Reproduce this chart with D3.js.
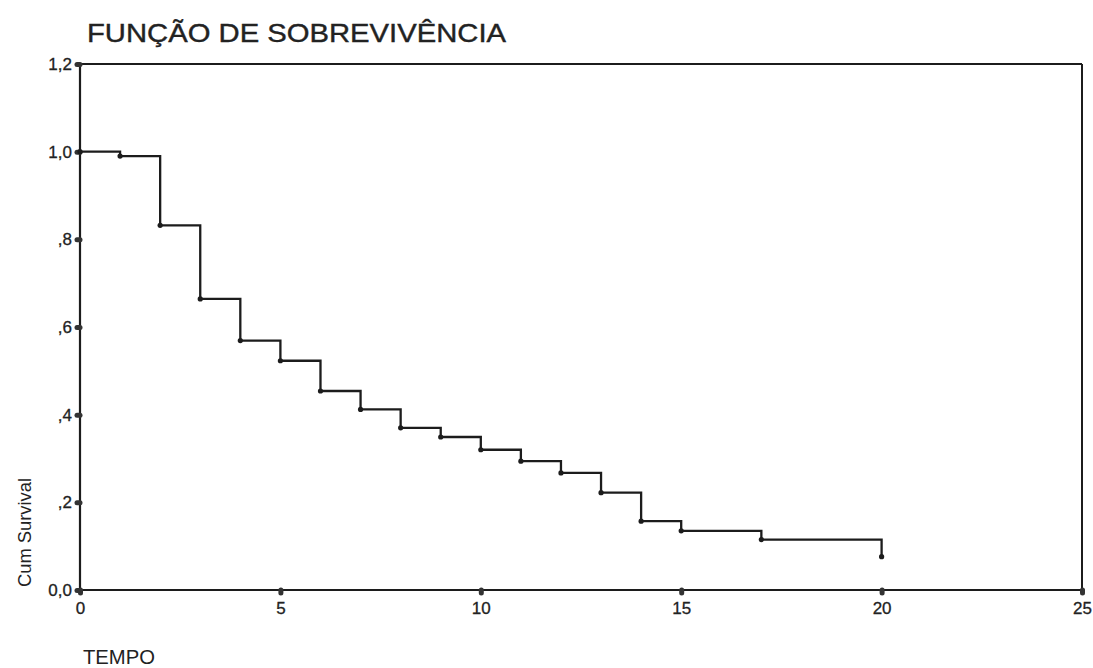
<!DOCTYPE html>
<html>
<head>
<meta charset="utf-8">
<script src="https://cdn.jsdelivr.net/npm/d3@7"></script>
<style>
  html, body { margin: 0; padding: 0; background: #fff; }
  svg { display: block; }
  text { font-family: "Liberation Sans", Arial, Helvetica, sans-serif; fill: #222; }
</style>
</head>
<body>
<svg id="chart" width="1093" height="668"></svg>
<script>
// ---- data ----
const times    = [0, 1, 2, 3, 4, 5, 6, 7, 8, 9, 10, 11, 12, 13, 14, 15, 17, 20];
const survival = [1.0, 0.99, 0.832, 0.664, 0.569, 0.523, 0.454, 0.412, 0.370, 0.349, 0.320, 0.294, 0.267, 0.222, 0.157, 0.135, 0.115, 0.076];
const xTicks = [0, 5, 10, 15, 20, 25];
const xTickLabels = ["0", "5", "10", "15", "20", "25"];
const yTicks = [0, 0.2, 0.4, 0.6, 0.8, 1.0, 1.2];
const yTickLabels = ["0,0", ",2", ",4", ",6", ",8", "1,0", "1,2"];
const titleText = "FUNÇÃO DE SOBREVIVÊNCIA";
const xTitle = "TEMPO";
const yTitle = "Cum Survival";

// ---- layout ----
const svg = d3.select("#chart");
const mLeft = 80, mRight = 1082, mTop = 64, mBottom = 590;
const x = d3.scaleLinear().domain([0, 25]).range([mLeft, mRight]);
const y = d3.scaleLinear().domain([0, 1.2]).range([mBottom, mTop]);
const ink = "#1c1c1c";

// title
svg.append("text")
  .attr("x", 87).attr("y", 42)
  .style("font-size", "26px")
  .style("stroke", "#222").style("stroke-width", "0.4px")
  .attr("textLength", 419).attr("lengthAdjust", "spacingAndGlyphs")
  .text(titleText);

// frame (top & right)
svg.append("line").attr("x1", x(0)).attr("x2", x(25)).attr("y1", y(1.2)).attr("y2", y(1.2))
  .attr("stroke", ink).attr("stroke-width", 2);
svg.append("line").attr("x1", x(25)).attr("x2", x(25)).attr("y1", y(1.2)).attr("y2", y(0))
  .attr("stroke", ink).attr("stroke-width", 2);

// axes
const yAxis = d3.axisLeft(y).tickValues(yTicks)
  .tickFormat((d, i) => yTickLabels[i]).tickSize(3).tickPadding(5);
const gy = svg.append("g").attr("transform", `translate(${mLeft},0)`).call(yAxis);
const xAxis = d3.axisBottom(x).tickValues(xTicks)
  .tickFormat((d, i) => xTickLabels[i]).tickSize(3).tickPadding(9);
const gx = svg.append("g").attr("transform", `translate(0,${mBottom})`).call(xAxis);

[gx, gy].forEach(g => {
  g.attr("font-size", null).attr("font-family", null);
  g.select(".domain").attr("stroke", ink).attr("stroke-width", 2.2);
  g.selectAll(".tick line").attr("stroke", "#333").attr("stroke-width", 5).attr("stroke-linecap", "round");
  g.selectAll(".tick text")
    .style("font-size", "17px").style("fill", "#222")
    .style("stroke", "#222").style("stroke-width", "0.3px");
});
gy.select(".domain").attr("d", `M0,${y(1.2)}V${y(0)}`);
gx.select(".domain").attr("d", `M${x(0)},0H${x(25)}`);

// survival step curve
const pts = times.map((t, i) => [t, survival[i]]);
const line = d3.line().x(d => x(d[0])).y(d => y(d[1])).curve(d3.curveStepAfter);
svg.append("path").datum(pts)
  .attr("d", line)
  .attr("fill", "none").attr("stroke", ink).attr("stroke-width", 2.3);

// event markers
svg.append("g").selectAll("circle").data(pts).join("circle")
  .attr("cx", d => x(d[0])).attr("cy", d => y(d[1]))
  .attr("r", 2.6).attr("fill", ink);

// axis titles
svg.append("text")
  .attr("transform", `translate(31,587) rotate(-90)`)
  .style("font-size", "18px")
  .attr("textLength", 109).attr("lengthAdjust", "spacingAndGlyphs")
  .text(yTitle);

svg.append("text")
  .attr("x", 83).attr("y", 664)
  .style("font-size", "20px")
  .attr("textLength", 72).attr("lengthAdjust", "spacingAndGlyphs")
  .text(xTitle);
</script>
</body>
</html>
